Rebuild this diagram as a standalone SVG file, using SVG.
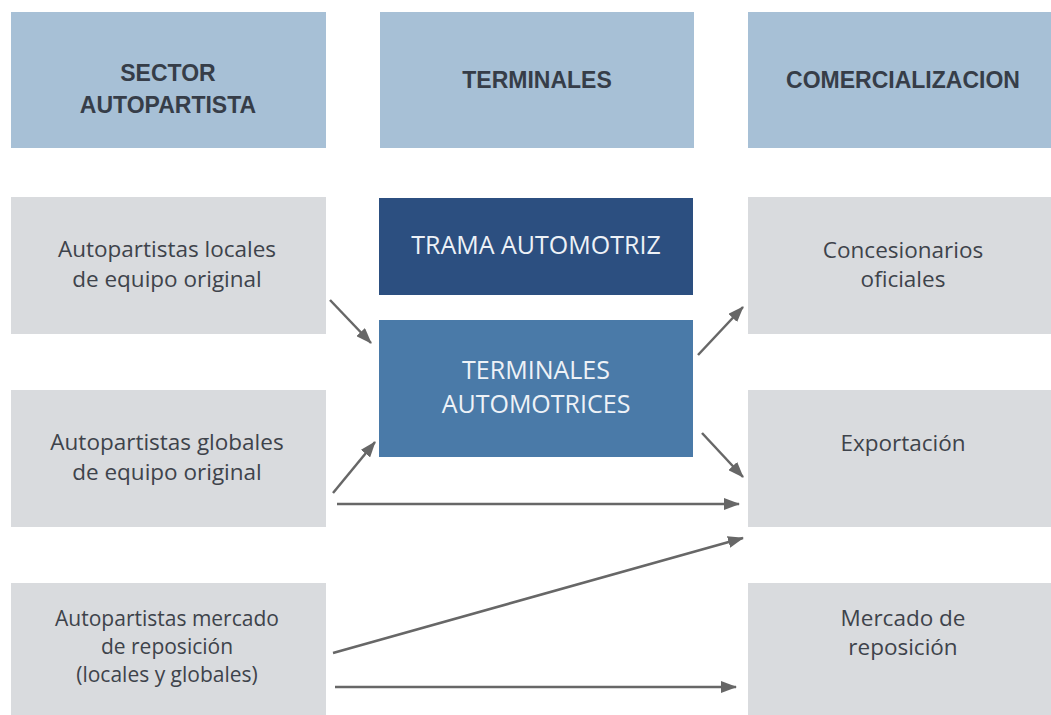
<svg xmlns="http://www.w3.org/2000/svg" width="1051" height="715" viewBox="0 0 1051 715">
<style>
.hdr{fill:#a7c0d6}
.box{fill:#d9dbde}
.ht{font-family:"Liberation Sans",Arial,sans-serif;font-weight:bold;font-size:23px;fill:#363d48;text-anchor:middle}
.bt{font-family:"Open Sans",sans-serif;font-size:22.5px;fill:#3e434b;text-anchor:middle}
.bs{font-size:21px}
.wt{font-family:"Open Sans",sans-serif;font-size:25px;fill:#eef2f7;text-anchor:middle}
.con{stroke:#676767;stroke-width:2.5;fill:none;marker-end:url(#ah)}
</style>
<defs>
<marker id="ah" markerUnits="userSpaceOnUse" markerWidth="16" markerHeight="12" viewBox="0 0 16 12" refX="15" refY="6" orient="auto">
<path d="M0,0 L16,6 L0,12 Z" fill="#676767"/>
</marker>
</defs>
<rect width="1051" height="715" fill="#ffffff"/>
<g id="h-sector">
<rect class="hdr" x="11" y="12" width="315" height="136"/>
<text class="ht" x="168" y="81">SECTOR</text>
<text class="ht" x="168" y="113">AUTOPARTISTA</text>
</g>
<g id="h-terminales">
<rect class="hdr" x="380" y="12" width="314" height="136"/>
<text class="ht" x="537" y="88">TERMINALES</text>
</g>
<g id="h-comercializacion">
<rect class="hdr" x="748" y="12" width="303" height="136"/>
<text class="ht" x="903" y="88">COMERCIALIZACION</text>
</g>
<g id="n-locales">
<rect class="box" x="11" y="197" width="315" height="137"/>
<text class="bt" x="167" y="257">Autopartistas locales</text>
<text class="bt" x="167" y="287">de equipo original</text>
</g>
<g id="n-globales">
<rect class="box" x="11" y="390" width="315" height="137"/>
<text class="bt" x="167" y="450">Autopartistas globales</text>
<text class="bt" x="167" y="480">de equipo original</text>
</g>
<g id="n-reposicion-src">
<rect class="box" x="11" y="583" width="315" height="132"/>
<text class="bt bs" x="167" y="626">Autopartistas mercado</text>
<text class="bt bs" x="167" y="654">de reposición</text>
<text class="bt bs" x="167" y="682">(locales y globales)</text>
</g>
<g id="n-trama">
<rect x="379" y="198" width="314" height="97" fill="#2c4f80"/>
<text class="wt" x="536" y="254">TRAMA AUTOMOTRIZ</text>
</g>
<g id="n-terminales">
<rect x="379" y="320" width="314" height="137" fill="#4a7aa8"/>
<text class="wt" x="536" y="379">TERMINALES</text>
<text class="wt" x="536" y="413">AUTOMOTRICES</text>
</g>
<g id="n-concesionarios">
<rect class="box" x="748" y="197" width="303" height="137"/>
<text class="bt" x="903" y="258">Concesionarios</text>
<text class="bt" x="903" y="287">oficiales</text>
</g>
<g id="n-exportacion">
<rect class="box" x="748" y="390" width="303" height="137"/>
<text class="bt" x="903" y="451">Exportación</text>
</g>
<g id="n-mercado">
<rect class="box" x="748" y="583" width="303" height="132"/>
<text class="bt" x="903" y="626">Mercado de</text>
<text class="bt" x="903" y="655">reposición</text>
</g>
<g id="connectors">
<line class="con" x1="330" y1="300" x2="371" y2="343"/>
<line class="con" x1="333" y1="493" x2="375" y2="442"/>
<line class="con" x1="698" y1="355" x2="743" y2="307"/>
<line class="con" x1="702" y1="433" x2="743" y2="477"/>
<line class="con" x1="337" y1="504" x2="739" y2="504"/>
<line class="con" x1="333" y1="653" x2="743" y2="538"/>
<line class="con" x1="335" y1="687" x2="736" y2="687"/>
</g>
</svg>
